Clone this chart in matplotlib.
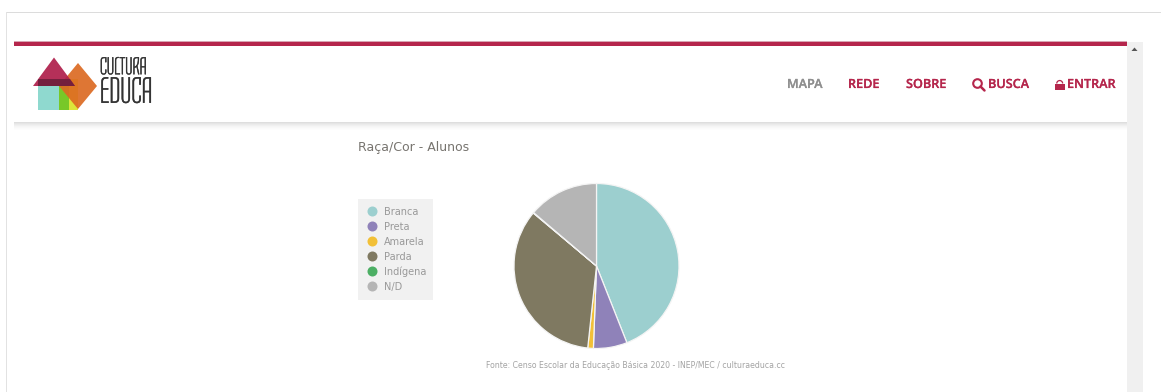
import matplotlib
matplotlib.use("Agg")
import matplotlib.pyplot as plt
import matplotlib.patheffects as pe
from matplotlib.patches import Rectangle, Polygon, Circle, Wedge

# Raça/Cor dos alunos, em % do total
categorias = ["Branca", "Preta", "Amarela", "Parda", "Indígena", "N/D"]
valores = [44.0, 6.6, 1.1, 34.4, 0.1, 13.8]
cores = ["#9ccfcf", "#8f82b9", "#f2c037", "#7f7961", "#4caf64", "#b5b5b5"]

titulo = "Raça/Cor - Alunos"
fonte = "Fonte: Censo Escolar da Educação Básica 2020 - INEP/MEC / culturaeduca.cc"
menu = ["MAPA", "REDE", "SOBRE", "BUSCA", "ENTRAR"]
menu_x = [787, 848, 906, 988, 1067]
menu_cor = ["#8f8f8f", "#b5264c", "#b5264c", "#b5264c", "#b5264c"]

VERMELHO = "#b5264c"
W, H = 1161, 392

fig = plt.figure(figsize=(W / 100, H / 100), dpi=100, facecolor="white")

# eixo em pixels para a moldura da pagina
ax = fig.add_axes([0, 0, 1, 1])
ax.set_xlim(0, W)
ax.set_ylim(H, 0)
ax.axis("off")

# moldura da janela
ax.add_patch(Rectangle((6, 12), W - 6, 1, color="#dcdcdc", lw=0))
ax.add_patch(Rectangle((6, 12), 1.2, H - 12, color="#e2e2e2", lw=0))

# barra de rolagem
ax.add_patch(Rectangle((1127, 42), 16, H - 42, color="#f0f0f0", lw=0))
ax.add_patch(Polygon([(1131.5, 51), (1137.5, 51), (1134.5, 47.5)], color="#555555", lw=0))

# cabecalho com sombra
for i in range(9):
    ax.add_patch(Rectangle((14, 122 + i), 1113, 1, color="#000000", alpha=0.13 * (1 - i / 9) ** 2, lw=0))
ax.add_patch(Rectangle((14, 41.3), 1113, 1, color="#d9a5b3", lw=0))
ax.add_patch(Rectangle((14, 42.2), 1113, 3.8, color=VERMELHO, lw=0))

# logo
ax.add_patch(Rectangle((38, 79), 40, 30.5, color="#8fd9cf", lw=0))
ax.add_patch(Rectangle((59, 79), 10, 30.5, color="#78c828", lw=0))
ax.add_patch(Rectangle((69, 79), 9, 30.5, color="#dce63a", lw=0))
ax.add_patch(Polygon([(78, 63), (97, 86), (78, 109), (59, 86)], color="#dc6a22", alpha=0.92, lw=0))
ax.add_patch(Polygon([(54, 57.5), (75, 86), (33, 86)], color="#b0204c", alpha=0.93, lw=0))
ax.add_patch(Polygon([(38, 79), (70, 79), (75, 86), (38, 86)], color="#6e1f3c", alpha=0.9, lw=0))
narrow = ["Tulpen One", "Antonio", "Liberation Sans"]
reforco = [pe.withStroke(linewidth=0.3, foreground="#333333")]
ax.text(100, 67.5, "CULTURA", family=narrow, fontsize=18, color="#333333", va="center", ha="left", path_effects=reforco)
ax.text(100, 92.5, "EDUCA", family=narrow, fontsize=27, color="#333333", va="center", ha="left", path_effects=reforco)

# menu
for nome, x, cor in zip(menu, menu_x, menu_cor):
    ax.text(x, 84.5, nome, family="Open Sans", fontsize=9.1, weight="semibold", color=cor, va="center", ha="left",
            path_effects=[pe.withStroke(linewidth=0.15, foreground=cor)])

# lupa
ax.add_patch(Circle((977.5, 83.5), 4.3, fill=False, ec=VERMELHO, lw=1.5))
ax.plot([980.5, 984.5], [86.5, 90.5], color=VERMELHO, lw=1.8, solid_capstyle="round")
# cadeado
ax.add_patch(Rectangle((1055, 83.5), 9.5, 6.5, color=VERMELHO, lw=0))
ax.add_patch(Wedge((1059.7, 83.5), 3.6, 180, 360, width=1.3, color=VERMELHO, lw=0))

# titulo e legenda
ax.text(358, 147, titulo, family="DejaVu Sans", fontsize=9, color="#77746f", va="center", ha="left")
ax.add_patch(Rectangle((358, 199), 74.5, 101, color="#f1f1f1", lw=0))
for i, (nome, cor) in enumerate(zip(categorias, cores)):
    y = 211.5 + 15 * i
    ax.add_patch(Circle((372.5, y), 5, color=cor, lw=0))
    ax.text(384, y + 0.3, nome, family="DejaVu Sans", fontsize=7, color="#999999", va="center", ha="left")

ax.text(486, 365.5, fonte, family="DejaVu Sans", fontsize=5.55, color="#a3a3a3", va="center", ha="left")

# pizza centrada em (596.5, 266), raio 82.5 px
r = 82.5
ax_pie = fig.add_axes([(596.5 - r) / W, 1 - (266 + r) / H, 2 * r / W, 2 * r / H])
ax_pie.pie(valores, colors=cores, startangle=90, counterclock=False, radius=1,
           wedgeprops={"edgecolor": "#f4f4f4", "linewidth": 0.9})
ax_pie.set_xlim(-1, 1)
ax_pie.set_ylim(-1, 1)

fig.savefig("out.png", dpi=100)
